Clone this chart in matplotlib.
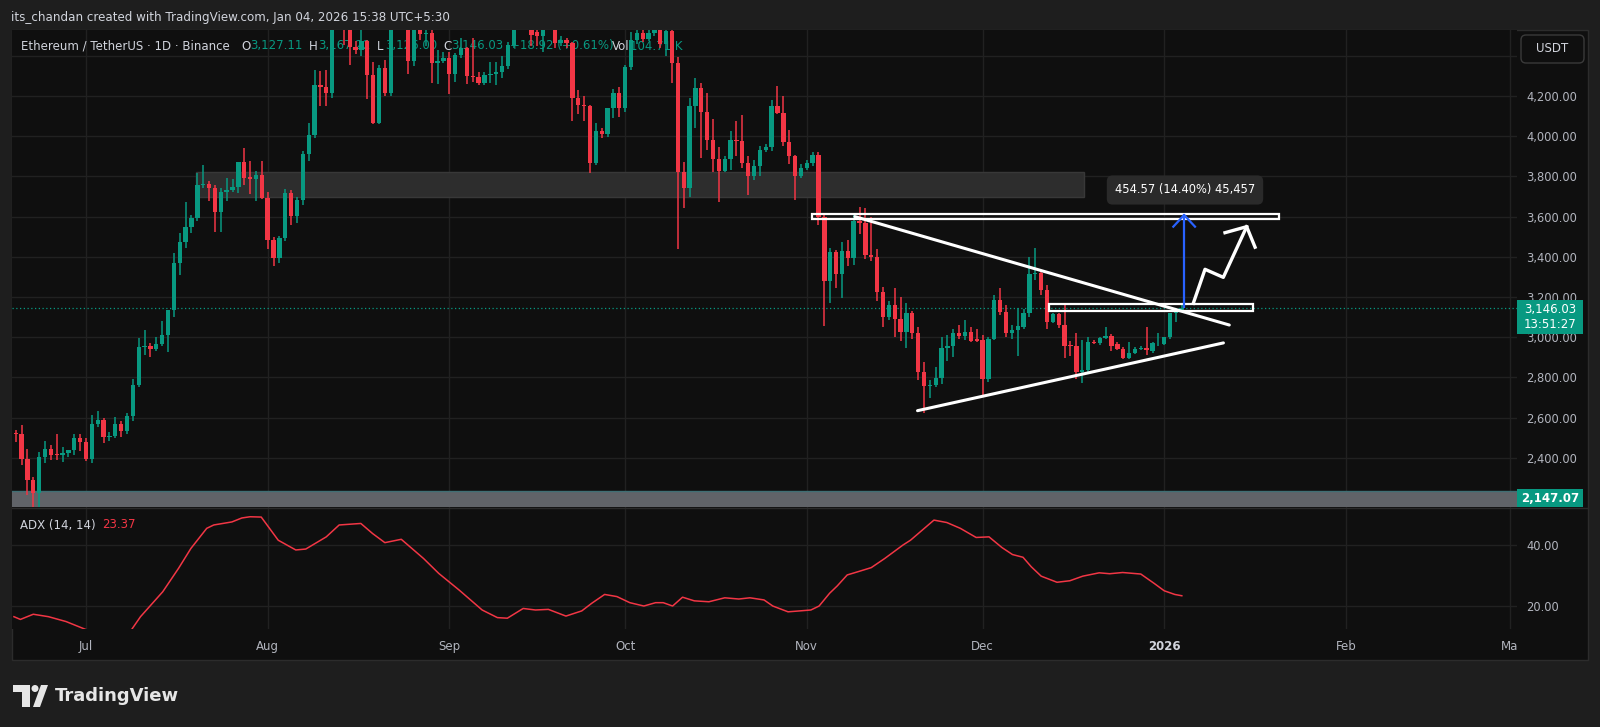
import numpy as np
import pandas as pd
import matplotlib
matplotlib.use("Agg")
import matplotlib.pyplot as plt
from matplotlib.patches import Rectangle, FancyBboxPatch, Polygon, Circle

W, H = 1600, 727

# ETH/USDT daily candles, one line per month (Jun 19 2025 .. Jan 4 2026)
first_day = "2025-06-19"
opens = [
    2525, 2519, 2395, 2290, 2225, 2405, 2445, 2420, 2415, 2425, 2437, 2498,
    2481, 2395, 2569, 2589, 2503, 2509, 2567, 2534, 2610, 2763, 2952, 2955, 2940, 2967, 3010, 3134,
    3371, 3476, 3546, 3593, 3757, 3762, 3741, 3622, 3720, 3733, 3749, 3870, 3797, 3787, 3809,
    3693, 3484, 3394, 3494, 3718, 3603, 3685, 3909, 4005, 4253, 4245, 4217, 4600, 4750, 4549, 4442,
    4430, 4475, 4306, 4066, 4337, 4215, 4830, 4780, 4775, 4372, 4600, 4510, 4515, 4365, 4373,
    4389, 4310, 4405, 4440, 4300, 4295, 4265, 4303, 4310, 4318, 4347, 4455, 4715, 4670, 4605,
    4520, 4497, 4590, 4590, 4465, 4478, 4465, 4192, 4155, 4150, 3865, 4028, 4011, 4139, 4214,
    4139, 4346, 4478, 4511, 4485, 4515, 4690, 4460, 4525, 4362, 3824, 3741, 4150, 4238, 4122, 3981,
    3887, 3828, 3886, 3981, 3975, 3865, 3803, 3850, 3932, 3948, 4150, 4114, 3973, 3899, 3803,
    3841, 3869, 3907, 3600, 3280, 3423, 3313, 3429, 3393, 3580, 3570, 3409, 3400, 3227, 3103,
    3161, 3091, 3025, 3120, 3023, 2829, 2758, 2763, 2796, 2949, 2959, 3023, 3008, 3025, 2990,
    2987, 2791, 2991, 3186, 3128, 3020, 3036, 3053, 3120, 3313, 3322, 3235, 3078, 3116, 3061, 2962,
    2959, 2829, 2835, 2975, 2970, 2995, 3008, 2967, 2942, 2895, 2920, 2942, 2948, 2932, 2970,
    2967, 3003, 3120, 3127.11,
]
highs = [
    2540, 2564, 2445, 2307, 2430, 2485, 2465, 2520, 2455, 2440, 2519, 2519,
    2500, 2614, 2634, 2599, 2530, 2604, 2584, 2624, 2793, 2997, 3036, 2973, 3000, 3081, 3135, 3420,
    3517, 3672, 3610, 3819, 3857, 3775, 3757, 3740, 3790, 3788, 3871, 3941, 3879, 3826, 3875,
    3720, 3500, 3505, 3735, 3730, 3700, 3925, 4066, 4330, 4326, 4330, 4630, 4790, 4788, 4675,
    4475, 4560, 4480, 4370, 4353, 4380, 4887, 4850, 4956, 4780, 4630, 4660, 4630, 4545, 4430, 4420,
    4420, 4415, 4490, 4445, 4490, 4320, 4320, 4370, 4370, 4400, 4470, 4750, 4770, 4680, 4680,
    4530, 4600, 4640, 4600, 4500, 4490, 4470, 4230, 4200, 4155, 4068, 4040, 4139, 4235, 4245,
    4355, 4520, 4540, 4530, 4590, 4755, 4750, 4540, 4560, 4395, 3873, 4190, 4291, 4263, 4217, 4084,
    3948, 3900, 4028, 4075, 4106, 3899, 3880, 3950, 3960, 4180, 4250, 4200, 4030, 3907, 3860,
    3880, 3920, 3920, 3610, 3444, 3434, 3476, 3484, 3618, 3650, 3643, 3600, 3440, 3250, 3180,
    3245, 3200, 3171, 3130, 3053, 2879, 2790, 2850, 3000, 3010, 3041, 3062, 3085, 3050, 3040,
    3012, 3000, 3210, 3245, 3160, 3060, 3146, 3140, 3398, 3446, 3330, 3260, 3120, 3120, 3171, 2980,
    3023, 2985, 3000, 2985, 3002, 3053, 3015, 2975, 2950, 2975, 2950, 2955, 3053, 2975, 3020,
    3003, 3120, 3148, 3167.22,
]
lows = [
    2480, 2365, 2216, 2112, 2130, 2375, 2390, 2390, 2380, 2405, 2415, 2432,
    2385, 2375, 2554, 2475, 2485, 2500, 2504, 2519, 2584, 2753, 2912, 2903, 2930, 2957, 2928, 3100,
    3310, 3444, 3520, 3580, 3742, 3680, 3525, 3525, 3680, 3720, 3718, 3759, 3714, 3676, 3690,
    3440, 3355, 3370, 3480, 3560, 3570, 3660, 3879, 3990, 4152, 4150, 4190, 4580, 4455, 4355,
    4407, 4400, 4185, 4060, 4060, 4200, 4200, 4700, 4600, 4310, 4350, 4480, 4450, 4265, 4260, 4365,
    4210, 4270, 4390, 4260, 4270, 4255, 4255, 4265, 4255, 4290, 4335, 4440, 4630, 4570, 4450,
    4450, 4420, 4540, 4440, 4450, 4440, 4077, 4110, 4075, 3816, 3855, 3990, 3995, 4090, 4095,
    4120, 4330, 4460, 4470, 4475, 4500, 4440, 4400, 4263, 3440, 3642, 3700, 4039, 3891, 3932, 3824,
    3675, 3820, 3830, 3900, 3841, 3708, 3780, 3800, 3920, 3925, 4110, 3950, 3860, 3683, 3790,
    3830, 3850, 3560, 3056, 3170, 3244, 3194, 3355, 3360, 3514, 3390, 3380, 3180, 3050, 3085,
    3003, 2980, 2947, 2990, 2788, 2622, 2700, 2755, 2770, 2880, 2904, 2990, 2985, 2975, 2975,
    2713, 2780, 2987, 3110, 3000, 2990, 2907, 3040, 3103, 3285, 3210, 3040, 3070, 3045, 2897, 2905,
    2792, 2775, 2820, 2965, 2960, 2990, 2930, 2935, 2890, 2890, 2915, 2935, 2912, 2920, 2955,
    2960, 2990, 3075, 3126.00,
]
closes = [
    2519, 2395, 2290, 2225, 2405, 2445, 2415, 2415, 2425, 2437, 2498, 2478,
    2395, 2569, 2589, 2503, 2509, 2569, 2534, 2610, 2763, 2952, 2955, 2940, 2967, 3010, 3134, 3371,
    3476, 3546, 3593, 3757, 3762, 3741, 3622, 3720, 3733, 3749, 3870, 3792, 3787, 3809, 3693,
    3484, 3394, 3494, 3718, 3603, 3685, 3909, 4005, 4253, 4245, 4217, 4600, 4750, 4549, 4442,
    4430, 4475, 4306, 4066, 4337, 4215, 4830, 4780, 4775, 4372, 4600, 4510, 4515, 4365, 4373, 4389,
    4310, 4405, 4440, 4300, 4295, 4265, 4303, 4310, 4318, 4347, 4455, 4715, 4670, 4605, 4505,
    4497, 4590, 4590, 4462, 4478, 4465, 4192, 4155, 4150, 3865, 4028, 4011, 4139, 4214, 4139,
    4346, 4478, 4511, 4485, 4515, 4690, 4460, 4525, 4362, 3824, 3741, 4150, 4238, 4122, 3981, 3887,
    3828, 3886, 3981, 3975, 3865, 3803, 3850, 3932, 3948, 4150, 4114, 3973, 3899, 3803, 3841,
    3869, 3907, 3600, 3280, 3423, 3313, 3429, 3393, 3580, 3570, 3409, 3400, 3227, 3103, 3161,
    3091, 3025, 3120, 3020, 2829, 2758, 2763, 2796, 2949, 2959, 3023, 3008, 3025, 2982, 2982,
    2791, 2991, 3186, 3125, 3020, 3036, 3056, 3120, 3313, 3322, 3235, 3078, 3116, 3061, 2959, 2955,
    2829, 2835, 2975, 2970, 2995, 3008, 2959, 2942, 2895, 2920, 2942, 2948, 2935, 2970, 2973,
    3003, 3120, 3127.11, 3146.03,
]

# ADX(14,14) vertices, day offset from Jul 1 2025
adx_day = [-12.3, -11.2, -9.0, -6.4, -3.4, -0.3, 2.3, 5.0, 7.5, 9.3, 13.1, 15.8, 17.9, 20.6,
           21.8, 24.9, 26.6, 28.0, 29.9, 32.8, 35.8, 37.5, 41.0, 43.2, 46.9, 48.9, 51.0, 53.8,
           57.6, 60.2, 63.7, 67.6, 70.2, 71.9, 74.6, 76.7, 78.9, 81.9, 84.6, 86.3, 88.5, 90.6,
           92.8, 95.2, 97.2, 98.5, 100.1, 101.8, 103.8, 106.3, 109.0, 111.4, 113.3, 115.7, 117.2,
           119.8, 121.8, 123.7, 125.1, 126.9, 128.2, 129.9, 131.8, 134.0, 136.3, 139.4, 140.7,
           144.7, 146.9, 149.2, 151.9, 154.1, 156.3, 158.1, 159.9, 161.3, 163.0, 165.7, 167.9,
           170.1, 172.9, 174.7, 176.9, 180.0, 182.3, 184.0, 185.8, 187.0]
adx_val = [16.5, 15.6, 17.3, 16.5, 14.9, 12.5, 10.5, 10.0, 11.5, 16.5, 24.7, 32.4, 38.9, 45.5,
           46.6, 47.6, 48.9, 49.3, 49.2, 41.6, 38.4, 38.7, 42.7, 46.6, 47.1, 43.8, 40.8, 41.9,
           35.6, 30.7, 25.2, 18.7, 16.2, 16.0, 19.2, 18.7, 18.9, 16.7, 18.4, 20.9, 23.8, 23.1,
           21.1, 20.0, 21.1, 21.1, 20.0, 22.9, 21.7, 21.4, 22.7, 22.3, 22.7, 22.0, 20.0,
           18.1, 18.4, 18.7, 20.0, 24.2, 26.6, 30.2, 31.3, 32.6, 35.6, 40.0, 41.6,
           48.2, 47.4, 45.5, 42.5, 42.7, 39.2, 36.9, 36.0, 32.9, 29.8, 27.8, 28.3,
           29.8, 30.9, 30.6, 31.0, 30.5, 27.4, 25.0, 23.8, 23.37]

price_grid = [2200, 2400, 2600, 2800, 3000, 3200, 3400, 3600, 3800, 4000, 4200, 4400]
price_labeled = [2400, 2600, 2800, 3000, 3200, 3400, 3600, 3800, 4000, 4200]
month_ticks = ["2025-07-01", "2025-08-01", "2025-09-01", "2025-10-01", "2025-11-01",
               "2025-12-01", "2026-01-01", "2026-02-01", "2026-03-01"]
month_labels = ["Jul", "Aug", "Sep", "Oct", "Nov", "Dec", "2026", "Feb", "Ma"]

# user drawings (day offset from Jul 1, price)
supply_zone = (18.8, 170.3, 3698, 3822)
base_zone = (2147.07, 2237)
target_box = (123.9, 203.6, 3590, 3613)
breakout_box = (164.3, 199.1, 3131, 3166)
upper_trend = ([131.2, 195.1], [3600, 3061])
lower_trend = ([141.9, 194.1], [2635, 2972])
measure_day, measure_lo, measure_hi = 187.4, 3152, 3608
zigzag_day = [188.96, 190.96, 194.08, 198.07]
zigzag_px = [3169, 3338, 3298, 3550]
head_day = [194.37, 198.07, 199.5]
head_px = [3520, 3550, 3448]
last_price = 3146.03

GREEN = "#089981"
RED = "#f23645"
BG = "#0f0f0f"
GRID = "#212121"
TXT = "#b2b5be"
LIGHT = "#d1d4dc"

assert len(opens) == len(highs) == len(lows) == len(closes) == 200
assert len(adx_day) == len(adx_val)

o = np.array(opens, float)
h = np.array(highs, float)
l = np.array(lows, float)
c = np.array(closes, float)
base = pd.Timestamp("2025-07-01")
dates = pd.date_range(first_day, periods=len(c), freq="D")
t = (dates - base).days.to_numpy()
mt = (pd.to_datetime(month_ticks) - base).days.to_numpy()
xlim = (-12.63, 244.2)

fig = plt.figure(figsize=(16, 7.27), dpi=100)
fig.patch.set_facecolor("#1e1e1e")

# pixel-space layers below and above the panes
under = fig.add_axes([0, 0, 1, 1], zorder=-1)
under.set_xlim(0, W); under.set_ylim(H, 0); under.axis("off")
under.add_patch(Rectangle((12, 30), 1576, 630, fc=BG, ec="#2c2c2c", lw=1))

# ---- price pane ----
ax = fig.add_axes([12 / W, 1 - 507 / H, 1505 / W, 477 / H])
ax.set_facecolor(BG)
ax.set_xlim(*xlim)
ax.set_ylim(2156, 4528)
for s in ax.spines.values():
    s.set_visible(False)
ax.yaxis.tick_right()
ax.set_yticks(price_grid)
ax.set_yticklabels([f"{p:,.2f}" if p in price_labeled else "" for p in price_grid])
ax.tick_params(axis="y", length=0, pad=6.5, labelsize=8.3, labelcolor=TXT)
ax.set_xticks(mt)
ax.tick_params(axis="x", length=0, labelbottom=False)
ax.grid(color=GRID, lw=1)
ax.set_axisbelow(True)

ax.add_patch(Rectangle((supply_zone[0], supply_zone[2]), supply_zone[1] - supply_zone[0],
                       supply_zone[3] - supply_zone[2], fc="#2d2d2d", ec="#383838", lw=1, zorder=1))
ax.add_patch(Rectangle((xlim[0] - 1, base_zone[0]), xlim[1] - xlim[0] + 2, base_zone[1] - base_zone[0],
                       fc="#606368", ec="none", zorder=1))
ax.axhline(base_zone[1], color="#3f6f74", lw=1, zorder=1.2)
ax.axhline(last_price, color=GREEN, lw=0.9, ls=(0, (1, 2)), zorder=2)

up = c >= o
col = np.where(up, GREEN, RED)
ax.vlines(t, l, h, colors=col, lw=1.1, zorder=3)
body = np.maximum(np.abs(c - o), 4)
ax.bar(t, body, width=0.74, bottom=np.minimum(o, c), color=col, lw=0, zorder=4)

for x0, x1, p0, p1 in (target_box, breakout_box):
    ax.add_patch(Rectangle((x0, p0), x1 - x0, p1 - p0, fill=False, ec="white", lw=1.6, zorder=5))
for xs, ys in (upper_trend, lower_trend):
    ax.plot(xs, ys, color="white", lw=2.2, solid_capstyle="round", zorder=6)
ax.plot([measure_day, measure_day], [measure_lo, measure_hi], color="#2962ff", lw=1.6, zorder=7)
ax.plot([measure_day - 1.85, measure_day, measure_day + 1.85], [3550, measure_hi, 3550],
        color="#2962ff", lw=1.6, zorder=7)
ax.plot(zigzag_day, zigzag_px, color="white", lw=2.4, zorder=7)
ax.plot(head_day, head_px, color="white", lw=2.4, zorder=7)

# legend row (sits under the candles, as in the screenshot)
fy = 1 - 46 / H
ax.text(21 / W, fy, "Ethereum / TetherUS · 1D · Binance", transform=fig.transFigure,
        color=LIGHT, fontsize=8.5, va="center", zorder=2)
legend_bits = [(241, "O", LIGHT), (250, "3,127.11", GREEN), (309, "H", LIGHT), (318, "3,167.22", GREEN),
               (377, "L", LIGHT), (385, "3,126.00", GREEN), (443, "C", LIGHT), (451, "3,146.03", GREEN),
               (510, "+18.92 (+0.61%)", GREEN), (612, "Vol", LIGHT), (630, "104.71 K", GREEN)]
for x, s, colr in legend_bits:
    ax.text(x / W, fy, s, transform=fig.transFigure, color=colr, fontsize=8.5, va="center", zorder=2)

# ---- ADX pane ----
ax2 = fig.add_axes([12 / W, 1 - 629 / H, 1505 / W, 122 / H])
ax2.set_facecolor(BG)
ax2.set_xlim(*xlim)
ax2.set_ylim(12.46, 52.5)
for s in ax2.spines.values():
    s.set_visible(False)
ax2.yaxis.tick_right()
ax2.set_yticks([20, 40])
ax2.set_yticklabels(["20.00", "40.00"])
ax2.tick_params(axis="y", length=0, pad=6.5, labelsize=8.3, labelcolor=TXT)
ax2.set_xticks(mt)
ax2.set_xticklabels(month_labels)
ax2.tick_params(axis="x", length=0, pad=8, labelsize=8.5, labelcolor=TXT)
ax2.get_xticklabels()[6].set_fontweight("bold")
ax2.get_xticklabels()[6].set_color(LIGHT)
ax2.grid(color=GRID, lw=1)
ax2.set_axisbelow(True)
ax2.plot(adx_day, adx_val, color=RED, lw=1.1, zorder=3)

# ---- overlay in pixels: header, price tags, labels, logo ----
top = fig.add_axes([0, 0, 1, 1], zorder=5)
top.set_xlim(0, W); top.set_ylim(H, 0); top.axis("off")
top.patch.set_alpha(0)
top.text(11, 17, "its_chandan created with TradingView.com, Jan 04, 2026 15:38 UTC+5:30",
         color=LIGHT, fontsize=8.6, va="center")
top.plot([12, 1588], [507.5, 507.5], color="#2a2a2a", lw=1)
top.text(20, 525, "ADX (14, 14)", color=LIGHT, fontsize=8.5, va="center")
top.text(102, 525, "23.37", color=RED, fontsize=8.5, va="center")

top.add_patch(FancyBboxPatch((1521, 35), 63, 28, boxstyle="round,pad=0,rounding_size=5",
                             fc=BG, ec="#3a3a3a", lw=1))
top.text(1552.5, 49, "USDT", color=LIGHT, fontsize=8.5, ha="center", va="center")

top.add_patch(Rectangle((1517, 300), 66, 34, fc=GREEN, ec="none"))
top.text(1550, 309, f"{last_price:,.2f}", color="white", fontsize=8.5, ha="center", va="center")
top.text(1550, 324, "13:51:27", color="white", fontsize=8.5, ha="center", va="center")
top.add_patch(Rectangle((1517, 489), 66, 18, fc=GREEN, ec="none"))
top.text(1550, 498, f"{base_zone[0]:,.2f}", color="white", fontsize=8.5, ha="center",
         va="center", fontweight="bold")

top.text(1185, 190, "454.57 (14.40%) 45,457", color="white", fontsize=8.3, ha="center", va="center",
         bbox=dict(boxstyle="round,pad=0.7,rounding_size=0.5", fc="#2a2a2a", ec="none"))

logo = "#e6e6e6"
top.add_patch(Rectangle((13, 685), 17, 7, fc=logo, ec="none"))
top.add_patch(Rectangle((22, 685), 8, 22, fc=logo, ec="none"))
top.add_patch(Circle((35, 688.5), 3.5, fc=logo, ec="none"))
top.add_patch(Polygon([(41, 685), (48, 685), (40, 707), (33, 707)], closed=True, fc=logo, ec="none"))
top.text(55, 696, "TradingView", color=logo, fontsize=13, fontweight="bold", va="center")

fig.savefig("out.png", dpi=100, facecolor=fig.get_facecolor())
